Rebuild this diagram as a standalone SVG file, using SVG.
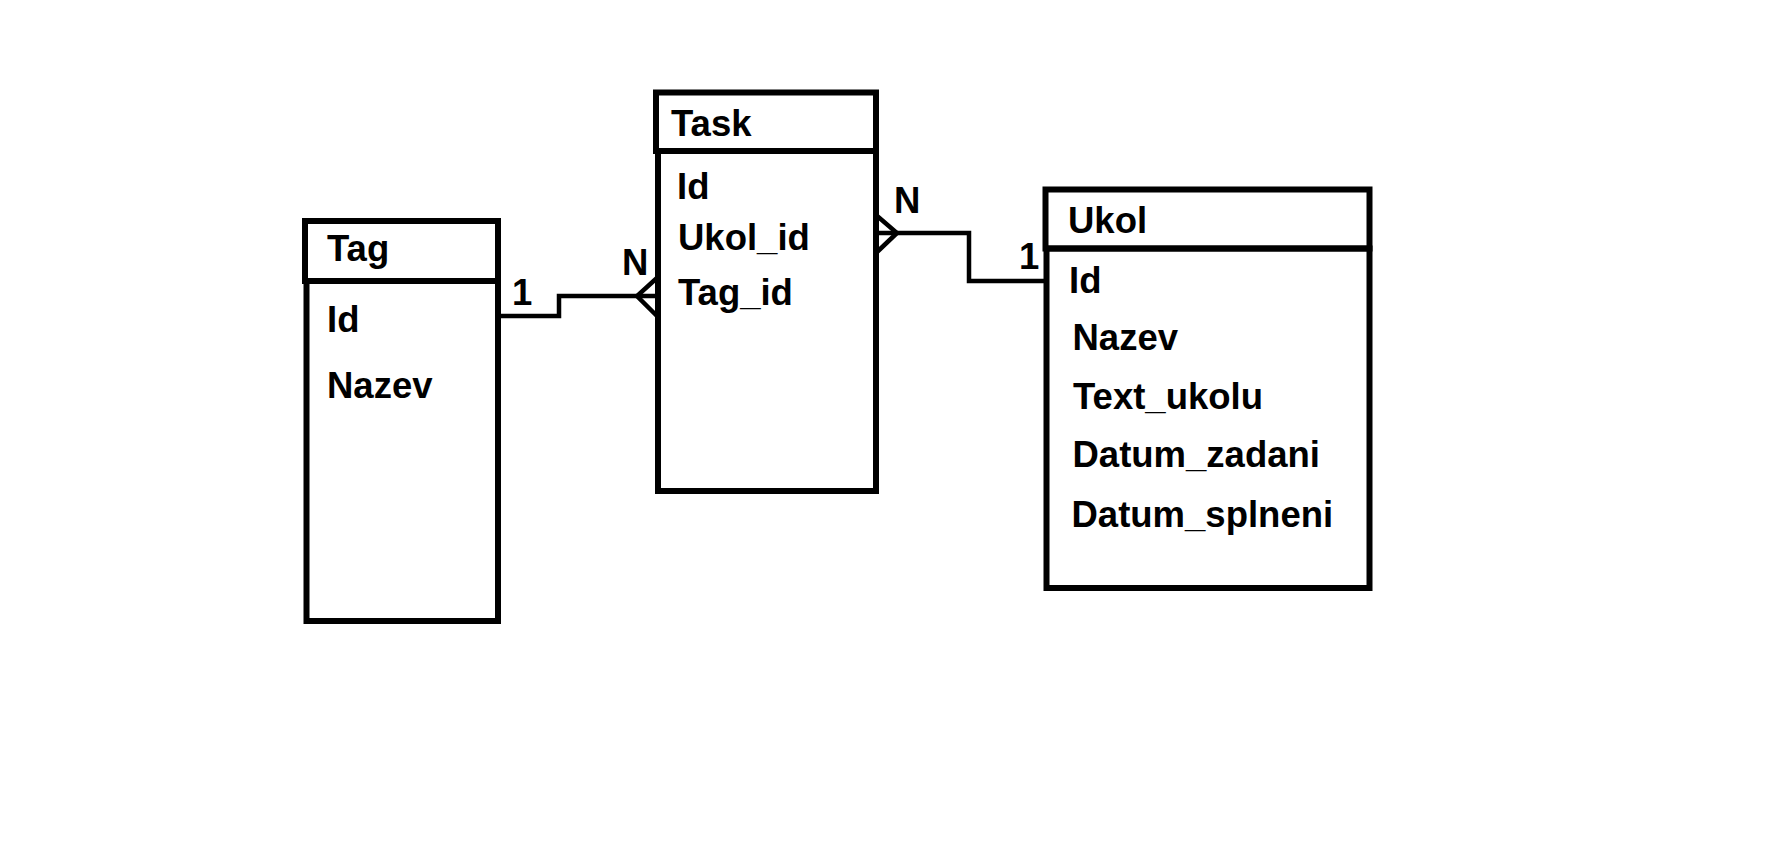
<svg xmlns="http://www.w3.org/2000/svg" width="1786" height="854" viewBox="0 0 1786 854">
<style>
.box{fill:none;stroke:#000;stroke-width:6}
.ln{fill:none;stroke:#000;stroke-width:4.5}
.t{font-family:"Liberation Sans",Arial,sans-serif;font-weight:bold;font-size:36.5px;fill:#000}
</style>
<rect width="1786" height="854" fill="#fff"/>
<g id="connectors">
<polyline class="ln" points="501,316 559,316 559,296 658,296"/>
<polyline class="ln" points="658,277 637,296 658,317"/>
<polyline class="ln" points="876,233 969,233 969,281 1045,281"/>
<polyline class="ln" points="876,215 897,233 876,253"/>
<text class="t" x="512" y="305">1</text>
<text class="t" x="622" y="275">N</text>
<text class="t" x="894" y="213">N</text>
<text class="t" x="1019" y="269">1</text>
</g>
<g id="tag">
<rect class="box" x="305" y="221" width="193" height="60"/>
<rect class="box" x="306.5" y="281" width="191.5" height="340"/>
<text class="t" x="327" y="261">Tag</text>
<text class="t" x="327" y="332">Id</text>
<text class="t" x="327" y="398">Nazev</text>
</g>
<g id="task">
<rect class="box" x="656" y="92.5" width="220" height="58.5"/>
<rect class="box" x="658" y="151" width="218" height="340"/>
<text class="t" x="671" y="136">Task</text>
<text class="t" x="677" y="199">Id</text>
<text class="t" x="678" y="250">Ukol_id</text>
<text class="t" x="678" y="305">Tag_id</text>
</g>
<g id="ukol">
<rect class="box" x="1045.5" y="189.5" width="324" height="59"/>
<rect class="box" x="1046.5" y="248.5" width="323" height="339.5"/>
<text class="t" x="1068" y="233">Ukol</text>
<text class="t" x="1069" y="293">Id</text>
<text class="t" x="1072.5" y="350">Nazev</text>
<text class="t" x="1073" y="409">Text_ukolu</text>
<text class="t" x="1072.5" y="467">Datum_zadani</text>
<text class="t" x="1071.5" y="527">Datum_splneni</text>
</g>
</svg>
